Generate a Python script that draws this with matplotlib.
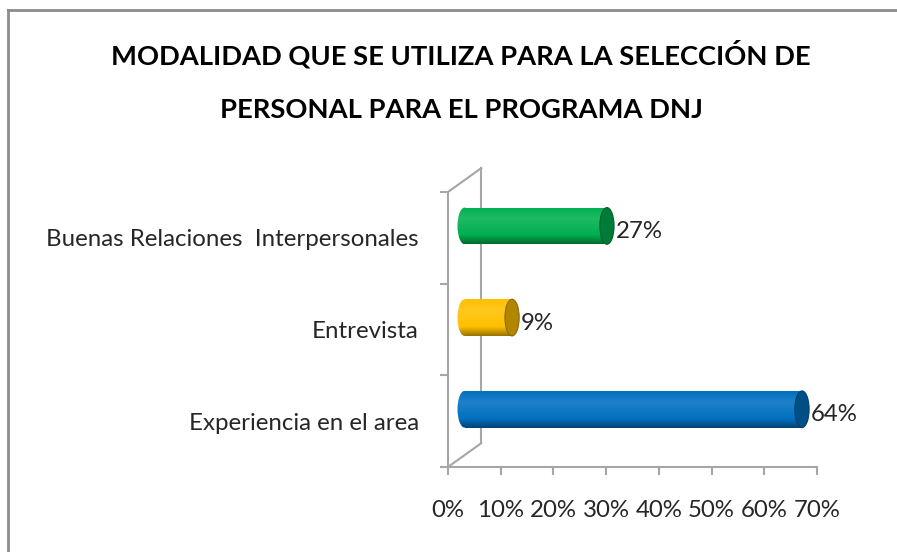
# modalidad_seleccion.py
# Barras horizontales tipo cilindro 3D (estilo Excel) con matplotlib

import numpy as np
import matplotlib.pyplot as plt
from matplotlib.patches import Ellipse
from matplotlib.lines import Line2D
from matplotlib.colors import to_rgb

plt.rcParams['font.family'] = ['Lato', 'DejaVu Sans']

categories = ["Experiencia en el area", "Entrevista", "Buenas Relaciones  Interpersonales"]
values = [64, 9, 27]  # %
colors = ["#0070c0", "#ffc000", "#00b050"]
xticks = [0, 10, 20, 30, 40, 50, 60, 70]
title_lines = ["MODALIDAD QUE SE UTILIZA PARA LA SELECCIÓN DE",
               "PERSONAL PARA EL PROGRAMA DNJ"]

grid_col = "#a6a6a6"
text_col = "#262626"
fs = 17.3

# profundidad del "3D" en unidades de datos
dx, dy = 6.3, 0.26
bar_h = 0.40
rx = 1.35  # radio horizontal de la tapa


def mix(c, other, a):
    c = np.array(to_rgb(c))
    o = np.array(to_rgb(other))
    return c * (1 - a) + o * a


def gradient(c, n=64):
    t = np.linspace(0, 1, n)
    light = mix(c, "white", 0.12)
    dark = mix(c, "black", 0.40)
    rows = []
    for ti in t:
        if ti < 0.3:
            col = mix(c, light, ti / 0.3)
        elif ti < 0.75:
            col = mix(light, c, (ti - 0.3) / 0.45)
        else:
            col = mix(c, dark, (ti - 0.75) / 0.25)
        rows.append(col)
    return np.array(rows)[:, None, :]


fig = plt.figure(figsize=(8.97, 5.52), dpi=100)
ax = fig.add_axes([448 / 897, 85 / 552, 369 / 897, 275 / 552])

# pared del fondo
ax.plot([dx, dx], [dy, 3 + dy], color=grid_col, lw=1.5, clip_on=False, zorder=1)
ax.plot([0, dx], [0, dy], color=grid_col, lw=1.5, clip_on=False, zorder=1)
ax.plot([0, dx], [3, 3 + dy], color=grid_col, lw=1.5, clip_on=False, zorder=1)

for i, (val, c) in enumerate(zip(values, colors)):
    yc = i + 0.5 + dy / 2
    x0 = dx / 2
    grad = gradient(c)
    bars = ax.barh([yc], [val], left=x0, height=bar_h, color="none",
                   edgecolor="none", zorder=3)
    body = bars.patches[0]
    ext = [x0 - rx, x0 + val + rx, yc - bar_h / 2, yc + bar_h / 2]
    im = ax.imshow(grad, extent=ext, aspect="auto", zorder=3, origin="upper")
    im.set_clip_path(body)
    left_end = Ellipse((x0, yc), 2 * rx, bar_h, facecolor="none", edgecolor="none", zorder=3)
    ax.add_patch(left_end)
    im2 = ax.imshow(grad, extent=ext, aspect="auto", zorder=3, origin="upper")
    im2.set_clip_path(left_end)
    cap = Ellipse((x0 + val, yc), 2 * rx, bar_h, facecolor=mix(c, "black", 0.30),
                  edgecolor=mix(c, "black", 0.45), lw=0.8, zorder=4)
    ax.add_patch(cap)
    ax.annotate(f"{val}%", xy=(x0 + val + rx, yc), xytext=(1.0, -4),
                textcoords="offset points", ha="left", va="center",
                fontsize=fs, color=text_col, zorder=5)

ax.set_xlim(0, 70)
ax.set_ylim(0, 3)

for s in ["top", "right"]:
    ax.spines[s].set_visible(False)
for s in ["left", "bottom"]:
    ax.spines[s].set_color(grid_col)
    ax.spines[s].set_linewidth(1.5)

ax.set_xticks(xticks)
ax.set_xticklabels([f"{t}%" for t in xticks])
ax.tick_params(axis="x", length=6, width=1.5, color=grid_col, pad=18,
               labelsize=fs, labelcolor=text_col)
ax.set_yticks([0, 1, 2, 3])
ax.set_yticklabels([])
ax.tick_params(axis="y", which="major", length=6, width=1.5, color=grid_col)
ax.set_yticks([0.5, 1.5, 2.5], minor=True)
ax.set_yticklabels(categories, minor=True)
ax.tick_params(axis="y", which="minor", length=0, pad=21,
               labelsize=fs, labelcolor=text_col)

# titulo
fig.text(461 / 897, 1 - 54 / 552, title_lines[0], ha="center", va="center",
         fontsize=19.7, fontweight="bold", color="black")
fig.text(461 / 897, 1 - 110 / 552, title_lines[1], ha="center", va="center",
         fontsize=19.7, fontweight="bold", color="black")

# marco del grafico
fig.add_artist(Line2D([8 / 897, 1], [1 - 10 / 552, 1 - 10 / 552],
                      transform=fig.transFigure, color="#8c8c8c", lw=2))
fig.add_artist(Line2D([8 / 897, 8 / 897], [0, 1 - 10 / 552],
                      transform=fig.transFigure, color="#8c8c8c", lw=2))

fig.savefig("out.png", dpi=100, facecolor="white")
